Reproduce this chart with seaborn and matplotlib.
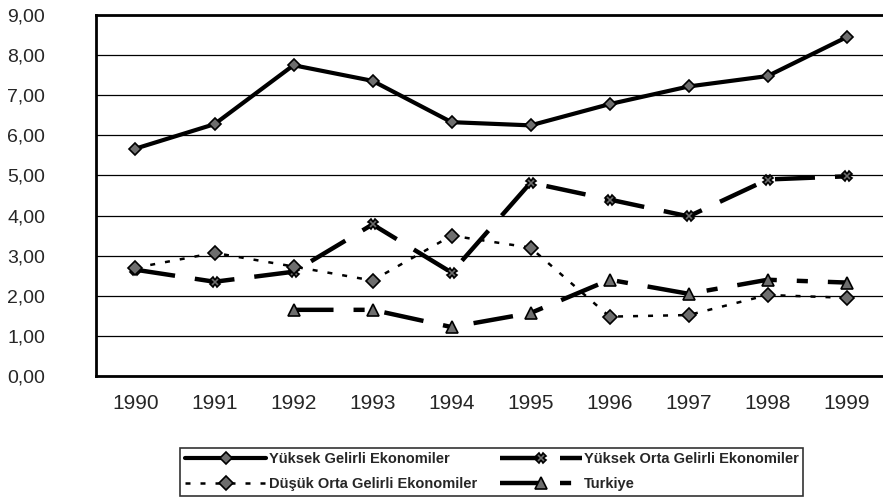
import numpy as np
import matplotlib
matplotlib.use("Agg")
import matplotlib.pyplot as plt
import pandas as pd
import seaborn as sns
from matplotlib.ticker import FuncFormatter, MultipleLocator

years = ["1990", "1991", "1992", "1993", "1994", "1995", "1996", "1997", "1998", "1999"]
yuksek = [5.67, 6.28, 7.75, 7.36, 6.33, 6.25, 6.78, 7.22, 7.48, 8.45]
yuksek_orta = [2.65, 2.35, 2.60, 3.78, 2.58, 4.82, 4.40, 3.98, 4.90, 4.98]
dusuk_orta = [2.70, 3.07, 2.73, 2.38, 3.50, 3.20, 1.48, 1.52, 2.02, 1.95]
turkiye = [np.nan, np.nan, 1.65, 1.65, 1.22, 1.57, 2.40, 2.05, 2.40, 2.33]

names = ["Yüksek Gelirli Ekonomiler", "Yüksek Orta Gelirli Ekonomiler",
         "Düşük Orta Gelirli Ekonomiler", "Turkiye"]

df = pd.DataFrame({"yil": years, names[0]: yuksek, names[1]: yuksek_orta,
                   names[2]: dusuk_orta, names[3]: turkiye})
df["x"] = np.arange(len(years))

sns.set_style("white")
plt.rcParams["font.family"] = ["Liberation Sans", "DejaVu Sans"]

fig = plt.figure(figsize=(8.83, 5.03), dpi=100)
ax = fig.add_axes([0.1087, 0.2525, 0.8913, 0.7175])

# cizgi stilleri: duz, uzun kesik, noktali, kesik-nokta
styles = [
    dict(linestyle="-", marker="D", lw=3.0, ms=6),
    dict(linestyle=(0, (9, 4.5)), marker="X", lw=3.2, ms=7),
    dict(linestyle=(0, (2, 4)), marker="D", lw=1.8, ms=7),
    dict(linestyle=(0, (9, 4.5, 2.5, 4.5)), marker="^", lw=3.2, ms=8),
]

for name, st in zip(names, styles):
    sns.lineplot(data=df, x="x", y=name, ax=ax, color="black", label=name,
                 linestyle=st["linestyle"], lw=st["lw"], marker=st["marker"],
                 markersize=st["ms"], markerfacecolor="#6e6e6e",
                 markeredgecolor="black", markeredgewidth=1.2)

ax.set_xlim(-0.5, 9.46)
ax.set_ylim(0, 9)
ax.yaxis.set_major_locator(MultipleLocator(1))
ax.yaxis.set_major_formatter(FuncFormatter(lambda v, p: f"{v:.2f}".replace(".", ",")))
ax.set_xticks(df["x"])
ax.set_xticklabels(years)
ax.set_xticks(np.arange(-0.5, 9.5, 1), minor=True)
ax.tick_params(axis="x", which="major", length=0, pad=13, labelsize=15)
ax.tick_params(axis="x", which="minor", length=4, width=1, direction="out", color="black")
ax.tick_params(axis="y", which="major", length=4, width=1, direction="out",
               color="black", pad=60, labelsize=14)
for lab in ax.get_yticklabels():
    lab.set_horizontalalignment("left")
ax.set_xlabel("")
ax.set_ylabel("")
ax.grid(axis="y", color="black", lw=0.9)
ax.set_axisbelow(True)
for s in ["left", "top", "bottom"]:
    ax.spines[s].set_color("black")
    ax.spines[s].set_linewidth(2.0)
ax.spines["right"].set_visible(False)

handles, labels = ax.get_legend_handles_labels()
order = [0, 2, 1, 3]
ax.get_legend().remove()
leg = fig.legend([handles[i] for i in order], [labels[i] for i in order],
                 ncol=2, loc="lower left", bbox_to_anchor=(0.196, 0.0),
                 frameon=True, fancybox=False, edgecolor="black",
                 handlelength=5.6, handletextpad=0.15, columnspacing=1.6,
                 borderpad=0.3, labelspacing=0.75,
                 prop={"size": 10.5, "weight": "bold", "family": "Liberation Sans"})
leg.get_frame().set_linewidth(1.2)

fig.savefig("out.png", dpi=100)
